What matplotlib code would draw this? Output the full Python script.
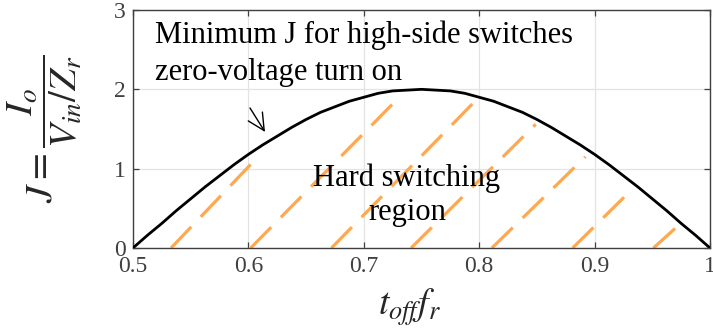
import matplotlib
matplotlib.use("Agg")
import matplotlib.pyplot as plt
import numpy as np

# ---- data ----
x_curve = [0.5, 0.5125, 0.525, 0.5375, 0.55, 0.5625, 0.575, 0.5875, 0.6, 0.6125,
           0.625, 0.6375, 0.65, 0.6625, 0.675, 0.6875, 0.7, 0.7125, 0.725, 0.7375,
           0.75, 0.7625, 0.775, 0.7875, 0.8, 0.8125, 0.825, 0.8375, 0.85, 0.8625,
           0.875, 0.8875, 0.9, 0.9125, 0.925, 0.9375, 0.95, 0.9625, 0.975, 0.9875, 1.0]
j_curve = [0.0, 0.16, 0.31, 0.47, 0.62, 0.77, 0.91, 1.05, 1.18, 1.30,
           1.41, 1.52, 1.62, 1.71, 1.78, 1.85, 1.90, 1.95, 1.98, 1.99,
           2.00, 1.99, 1.98, 1.95, 1.90, 1.85, 1.78, 1.71, 1.62, 1.52,
           1.41, 1.30, 1.18, 1.05, 0.91, 0.77, 0.62, 0.47, 0.31, 0.16, 0.0]

hatch_x_start = [0.533, 0.602, 0.672, 0.741, 0.811, 0.881, 0.951]
hatch_x_end = [0.607, 0.730, 0.795, 0.849, 0.892, 0.929, 0.970]
hatch_y_end = [1.13, 1.89, 1.83, 1.56, 1.15, 0.69, 0.25]

x_ticks = [0.5, 0.6, 0.7, 0.8, 0.9, 1.0]
x_ticklabels = ["0.5", "0.6", "0.7", "0.8", "0.9", "1"]
y_ticks = [0, 1, 2, 3]
y_ticklabels = ["0", "1", "2", "3"]

# ---- figure ----
plt.rcParams['font.family'] = ['Liberation Serif', 'DejaVu Serif']
plt.rcParams['mathtext.fontset'] = 'stix'
plt.rcParams['lines.scale_dashes'] = False

fig = plt.figure(figsize=(7.13, 3.30), dpi=100)
ax = fig.add_axes([0.1865, 0.2485, 0.8093, 0.7212])

axc = '#262626'
orange = '#FFA84F'

for xs, xe, ye in zip(hatch_x_start, hatch_x_end, hatch_y_end):
    ax.plot([xs, xe], [0, ye], color=orange, lw=2.3,
            dashes=(21, 10), solid_capstyle='butt', dash_capstyle='butt', zorder=2)

ax.plot(x_curve, j_curve, color='black', lw=2.0, zorder=3)

ax.set_xlim(0.5, 1.0)
ax.set_ylim(0, 3)
ax.set_xticks(x_ticks)
ax.set_xticklabels(x_ticklabels, fontsize=17)
ax.set_yticks(y_ticks)
ax.set_yticklabels(y_ticklabels, fontsize=17)
ax.grid(True, color='#e3e3e3', lw=0.9, zorder=0)
ax.set_axisbelow(True)
ax.tick_params(direction='in', length=4, width=0.9, color='#404040', labelcolor='#404040',
               top=True, right=True)
ax.tick_params(axis='x', pad=6)
ax.tick_params(axis='y', pad=5)
for sp in ax.spines.values():
    sp.set_color('#404040')
    sp.set_linewidth(1.0)

ax.set_xlabel(r'$t_{off}f_r$', fontsize=27, color=axc)
ax.xaxis.set_label_coords(0.48, -0.16)
ax.set_ylabel(r'$J=\dfrac{I_o}{V_{in}/Z_r}$', fontsize=28, color=axc)
ax.yaxis.set_label_coords(-0.085, 0.5)

fs = 22
ax.text(0.519, 2.585, 'Minimum J for high-side switches', fontsize=fs,
        va='baseline', ha='left', color='black', zorder=4)
ax.text(0.519, 2.118, 'zero-voltage turn on', fontsize=fs,
        va='baseline', ha='left', color='black', zorder=4)
ax.text(0.7374, 0.78, 'Hard switching', fontsize=fs,
        va='baseline', ha='center', color='black', zorder=4)
ax.text(0.7374, 0.353, 'region', fontsize=fs,
        va='baseline', ha='center', color='black', zorder=4)

ax.annotate('', xy=(0.6144, 1.463), xytext=(0.6014, 1.765),
            arrowprops=dict(arrowstyle='->,head_length=1.2,head_width=0.6',
                            color='black', lw=1.0, mutation_scale=10,
                            shrinkA=0, shrinkB=0), zorder=4)

fig.savefig('out.png', dpi=100)
